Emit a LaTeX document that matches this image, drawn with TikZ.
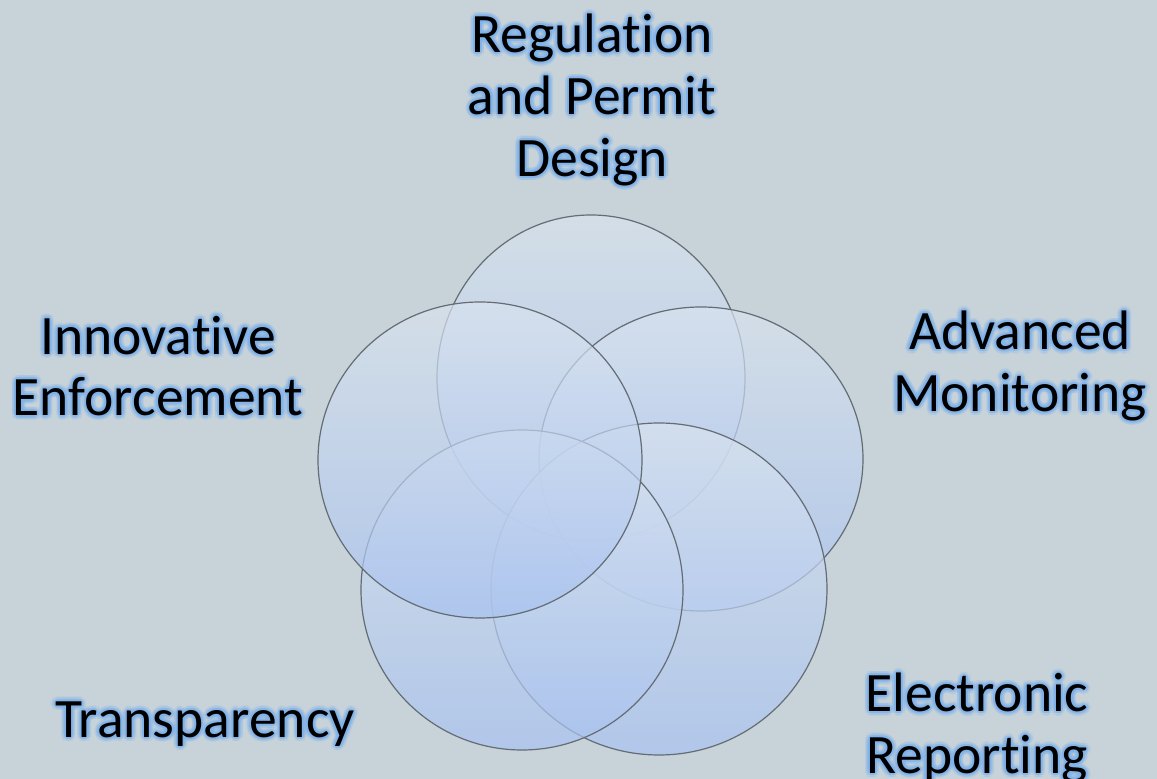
\documentclass[tikz,border=0pt]{standalone}
\usepackage{fontspec}
\setmainfont{Carlito}[Ligatures=NoCommon]
\usetikzlibrary{calc}
\definecolor{slidebg}{HTML}{C8D3D9}
\definecolor{ringtop}{HTML}{D9E3EE}
\definecolor{ringbot}{HTML}{A8C2F0}
\definecolor{ringline}{HTML}{646C74}
\definecolor{glowblue}{HTML}{7EB2EC}
\tikzset{
  label text/.style={font=\fontsize{27.8}{30.9}\selectfont, align=center, inner sep=0pt, text=black},
  ring/.style={top color=ringtop, bottom color=ringbot, fill opacity=.7, draw=ringline, line width=.6pt}
}
% text with a soft blue halo
\newcommand{\glowlabel}[3]{%
  \foreach \ang in {0,30,...,330} {
    \node[label text, text=glowblue, text opacity=.18] at ($(#2)+(\ang:4.5)$) {#3};
    \node[label text, text=glowblue, text opacity=.3] at ($(#2)+(\ang:2.2)$) {#3};
  }
  \node[label text] (#1) at (#2) {#3};
}
\begin{document}
\begin{tikzpicture}[x=0.5pt, y=-0.5pt]
\useasboundingbox (0,0) rectangle (1157,779);
\fill[slidebg] (0,0) rectangle (1157,779);
% the five rings, clockwise from the top
\draw[ring] (591,378) ellipse (154 and 163);
\draw[ring] (701,459) ellipse (162 and 152);
\draw[ring] (659,589) ellipse (168 and 166);
\draw[ring] (522,590) ellipse (161 and 160);
\draw[ring] (480,460) ellipse (162 and 158);
% labels
\glowlabel{regulation}{592,100}{Regulation\\and Permit\\Design}
\glowlabel{monitoring}{1020,366}{Advanced\\Monitoring}
\glowlabel{reporting}{977,728}{Electronic\\Reporting}
\glowlabel{transparency}{205,724}{Transparency}
\glowlabel{enforcement}{158,366}{Innovative\\Enforcement}
\end{tikzpicture}
\end{document}
